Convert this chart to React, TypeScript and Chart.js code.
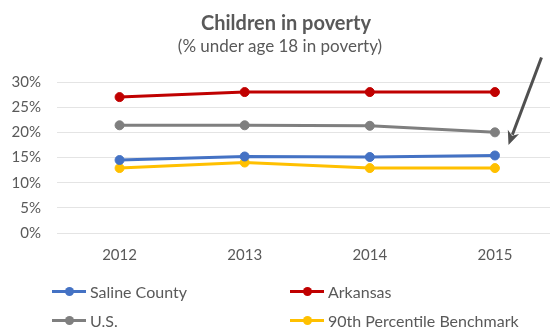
import React, { useEffect, useRef } from "react";
import { Chart, registerables } from "chart.js";

Chart.register(...registerables);

const categories = ["2012", "2013", "2014", "2015"];
const salineCounty = [14.5, 15.2, 15.1, 15.4];
const arkansas = [27, 28, 28, 28];
const us = [21.4, 21.4, 21.3, 20];
const benchmark = [12.9, 14, 12.9, 12.9];
const yTicks = [0, 5, 10, 15, 20, 25, 30];

const seriesNames = ["Saline County", "Arkansas", "U.S.", "90th Percentile Benchmark"];
const seriesColors = ["#4472C4", "#C00000", "#7F7F7F", "#FFC000"];

const FONT = "Lato, 'Open Sans', sans-serif";
const TEXT = "#595959";

const arrowPlugin = {
  id: "arrowNote",
  afterDraw(chart: any) {
    const ctx = chart.ctx;
    const x1 = 541.5, y1 = 57.5, x2 = 508.5, y2 = 145;
    const ang = Math.atan2(y2 - y1, x2 - x1);
    const headLen = 14, headW = 6;
    const bx = x2 - headLen * Math.cos(ang);
    const by = y2 - headLen * Math.sin(ang);
    ctx.save();
    ctx.strokeStyle = "#505050";
    ctx.fillStyle = "#505050";
    ctx.lineWidth = 3;
    ctx.beginPath();
    ctx.moveTo(x1, y1);
    ctx.lineTo(bx + 3 * Math.cos(ang), by + 3 * Math.sin(ang));
    ctx.stroke();
    ctx.beginPath();
    ctx.moveTo(x2, y2);
    ctx.lineTo(bx + headW * Math.sin(ang), by - headW * Math.cos(ang));
    ctx.lineTo(bx + 4 * Math.cos(ang), by + 4 * Math.sin(ang));
    ctx.lineTo(bx - headW * Math.sin(ang), by + headW * Math.cos(ang));
    ctx.closePath();
    ctx.fill();
    ctx.restore();
  },
};

function LegendItem({ name, color, left, top }: { name: string; color: string; left: number; top: number }) {
  return (
    <div style={{ position: "absolute", left, top: top - 10, height: 20, display: "flex", alignItems: "center", whiteSpace: "nowrap" }}>
      <div style={{ position: "relative", width: 34, height: 3, background: color, marginRight: 4 }}>
        <div style={{ position: "absolute", left: 13, top: -3, width: 9, height: 9, borderRadius: "50%", background: color }} />
      </div>
      <span style={{ fontFamily: FONT, fontSize: 16, color: TEXT }}>{name}</span>
    </div>
  );
}

export default function App() {
  const canvasRef = useRef<HTMLCanvasElement>(null);

  useEffect(() => {
    if (!canvasRef.current) return;
    const values = [salineCounty, arkansas, us, benchmark];
    const chart = new Chart(canvasRef.current, {
      type: "line",
      data: {
        labels: categories,
        datasets: values.map((d, i) => ({
          label: seriesNames[i],
          data: d,
          borderColor: seriesColors[i],
          backgroundColor: seriesColors[i],
          pointBackgroundColor: seriesColors[i],
          pointBorderColor: seriesColors[i],
          borderWidth: 3,
          pointRadius: 4.5,
          pointBorderWidth: 1,
          tension: 0,
          fill: false,
        })),
      },
      options: {
        animation: false,
        responsive: false,
        maintainAspectRatio: false,
        layout: { padding: { left: 0, right: 0, top: 82, bottom: 51 } },
        plugins: {
          legend: { display: false },
          title: { display: false },
          tooltip: { enabled: false },
        },
        scales: {
          x: {
            type: "category",
            offset: true,
            grid: { display: false, drawTicks: false },
            border: { display: false },
            ticks: { color: TEXT, font: { family: FONT, size: 15 }, padding: 13 },
          },
          y: {
            min: 0,
            max: 30,
            afterFit(scale: any) {
              scale.width = 57;
            },
            afterBuildTicks(scale: any) {
              scale.ticks = yTicks.map((v) => ({ value: v }));
            },
            grid: { color: "#E4E4E4", lineWidth: 1, drawTicks: false },
            border: { display: false },
            ticks: {
              color: TEXT,
              font: { family: FONT, size: 15 },
              padding: 16,
              callback: (v: any) => v + "%",
            },
          },
        },
      },
      plugins: [arrowPlugin],
    } as any);
    return () => chart.destroy();
  }, []);

  return (
    <div style={{ position: "absolute", left: 0, top: 0, width: 550, height: 328, overflow: "hidden", background: "#fff" }}>
      <canvas ref={canvasRef} width={563} height={328} style={{ position: "absolute", left: 0, top: 0, width: 563, height: 328 }} />
      <div style={{ position: "absolute", left: 286, top: 10, transform: "translateX(-50%)", whiteSpace: "nowrap", fontFamily: FONT, fontWeight: 700, fontSize: 20, lineHeight: "24px", color: TEXT }}>
        Children in poverty
      </div>
      <div style={{ position: "absolute", left: 280, top: 35, transform: "translateX(-50%)", whiteSpace: "nowrap", fontFamily: FONT, fontSize: 17, lineHeight: "22px", color: TEXT }}>
        (% under age 18 in poverty)
      </div>
      <LegendItem name={seriesNames[0]} color={seriesColors[0]} left={52} top={291} />
      <LegendItem name={seriesNames[1]} color={seriesColors[1]} left={290} top={291} />
      <LegendItem name={seriesNames[2]} color={seriesColors[2]} left={52} top={320} />
      <LegendItem name={seriesNames[3]} color={seriesColors[3]} left={290} top={320} />
    </div>
  );
}
